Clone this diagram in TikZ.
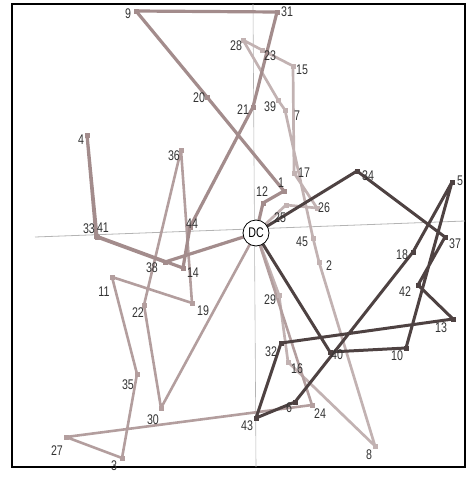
\documentclass[tikz,border=0pt]{standalone}
\usepackage{fontspec}
\newfontfamily\lab[FakeStretch=0.76]{Liberation Sans}
\definecolor{dk}{HTML}{4E4242}
\definecolor{md}{HTML}{A38C8C}
\definecolor{la}{HTML}{B39E9E}
\definecolor{lb}{HTML}{C2B2B2}
\definecolor{ax}{HTML}{B4B4B4}
\definecolor{tx}{HTML}{333333}
\begin{document}
\begin{tikzpicture}[x=1pt,y=-1pt,
  lbl/.style={font=\lab\fontsize{14}{14}\selectfont, text=tx, inner sep=0pt},
  mk/.style={rectangle, minimum size=5pt, inner sep=0pt},
  dkr/.style={draw=dk, line width=3pt, line join=round},
  mdr/.style={draw=md, line width=3.2pt, line join=round},
  lar/.style={draw=la, line width=2.6pt, line join=round},
  lbr/.style={draw=lb, line width=2.7pt, line join=round},
  dcnode/.style={circle, draw=black, fill=white, line width=0.8pt, minimum size=26pt, inner sep=0pt, font=\lab\fontsize{14}{14}\selectfont}]
\useasboundingbox (0,0) rectangle (469,477);
% points
\coordinate (dc) at (256,233);
\coordinate (n1) at (284,191);
\coordinate (n2) at (319,262);
\coordinate (n3) at (122,458);
\coordinate (n4) at (87,135);
\coordinate (n5) at (452,182);
\coordinate (n6) at (295,402);
\coordinate (n7) at (285,110);
\coordinate (n8) at (375,446);
\coordinate (n9) at (136,11);
\coordinate (n10) at (406,348);
\coordinate (n11) at (112,277);
\coordinate (n12) at (263,203);
\coordinate (n13) at (453,319);
\coordinate (n14) at (183,268);
\coordinate (n15) at (293,66);
\coordinate (n16) at (288,362);
\coordinate (n17) at (294,173);
\coordinate (n18) at (413,252);
\coordinate (n19) at (192,303);
\coordinate (n20) at (207,97);
\coordinate (n21) at (253,107);
\coordinate (n22) at (144,305);
\coordinate (n23) at (262,50);
\coordinate (n24) at (312,405);
\coordinate (n25) at (286,205);
\coordinate (n26) at (317,208);
\coordinate (n27) at (66,437);
\coordinate (n28) at (243,40);
\coordinate (n29) at (279,295);
\coordinate (n30) at (161,408);
\coordinate (n31) at (277,12);
\coordinate (n32) at (281,343);
\coordinate (n33) at (96,236);
\coordinate (n34) at (357,171);
\coordinate (n35) at (137,374);
\coordinate (n36) at (181,150);
\coordinate (n37) at (445,237);
\coordinate (n38) at (165,262);
\coordinate (n39) at (278,100);
\coordinate (n40) at (330,352);
\coordinate (n41) at (97,237);
\coordinate (n42) at (418,285);
\coordinate (n43) at (256,418);
\coordinate (n44) at (190,227);
\coordinate (n45) at (313,238);
% frame and axes
\draw[black, line width=1.6pt] (12,4) rectangle (465,467);
\draw[ax, line width=0.8pt] (35,237) -- (465,221);
\draw[ax, line width=0.6pt] (253,4) -- (256,467);
% routes
\draw[lbr] (dc) -- (n25) -- (n26) -- (n17) -- (n15) -- (n23) -- (n28) -- (n39) -- (n7) -- (n45) -- (n2) -- (n8) -- (n16) -- (n29) -- (dc);
\draw[lar] (dc) -- (n30) -- (n22) -- (n36) -- (n19) -- (n11) -- (n35) -- (n3) -- (n27) -- (n24) -- (dc);
\draw[mdr] (dc) -- (n12) -- (n1) -- (n20) -- (n9) -- (n31) -- (n21) -- (n44) -- (n14) -- (n33) -- (n4) -- (n41) -- (n38) -- (dc);
\draw[dkr] (dc) -- (n34) -- (n37) -- (n42) -- (n13) -- (n32) -- (n43) -- (n6) -- (n18) -- (n5) -- (n10) -- (n40) -- (dc);
% markers
\foreach \p in {25,26,17,15,23,28,39,7,45,2,8,16,29} \node[mk, fill=lb] (m\p) at (n\p) {};
\foreach \p in {30,22,36,19,11,35,3,27,24} \node[mk, fill=la] (m\p) at (n\p) {};
\foreach \p in {12,1,20,9,31,21,44,14,33,4,41,38} \node[mk, fill=md] (m\p) at (n\p) {};
\foreach \p in {34,37,42,13,32,43,6,18,5,10,40} \node[mk, fill=dk] (m\p) at (n\p) {};
% labels
\node[lbl] (l1) at (281,183) {1};
\node[lbl] (l2) at (329,266) {2};
\node[lbl] (l3) at (114,466) {3};
\node[lbl] (l4) at (81,140) {4};
\node[lbl] (l5) at (460,181) {5};
\node[lbl] (l6) at (289,408) {6};
\node[lbl] (l7) at (297,116) {7};
\node[lbl] (l8) at (369,455) {8};
\node[lbl] (l9) at (128,14) {9};
\node[lbl] (l10) at (397,356) {10};
\node[lbl] (l11) at (104,292) {11};
\node[lbl] (l12) at (262,192) {12};
\node[lbl] (l13) at (441,328) {13};
\node[lbl] (l14) at (193,273) {14};
\node[lbl] (l15) at (302,70) {15};
\node[lbl] (l16) at (297,369) {16};
\node[lbl] (l17) at (304,173) {17};
\node[lbl] (l18) at (402,255) {18};
\node[lbl] (l19) at (203,311) {19};
\node[lbl] (l20) at (199,98) {20};
\node[lbl] (l21) at (243,110) {21};
\node[lbl] (l22) at (138,313) {22};
\node[lbl] (l23) at (270,56) {23};
\node[lbl] (l24) at (320,414) {24};
\node[lbl] (l25) at (280,218) {25};
\node[lbl] (l26) at (324,208) {26};
\node[lbl] (l27) at (57,451) {27};
\node[lbl] (l28) at (236,46) {28};
\node[lbl] (l29) at (270,300) {29};
\node[lbl] (l30) at (153,420) {30};
\node[lbl] (l31) at (287,12) {31};
\node[lbl] (l32) at (271,352) {32};
\node[lbl] (l33) at (89,229) {33};
\node[lbl] (l41) at (103,228) {41};
\node[lbl] (l34) at (368,176) {34};
\node[lbl] (l35) at (128,385) {35};
\node[lbl] (l36) at (174,156) {36};
\node[lbl] (l37) at (455,244) {37};
\node[lbl] (l38) at (152,268) {38};
\node[lbl] (l39) at (270,107) {39};
\node[lbl] (l40) at (337,355) {40};
\node[lbl] (l42) at (405,292) {42};
\node[lbl] (l43) at (247,426) {43};
\node[lbl] (l44) at (192,224) {44};
\node[lbl] (l45) at (302,242) {45};
% depot
\node[dcnode] (DC) at (dc) {DC};
\end{tikzpicture}
\end{document}
